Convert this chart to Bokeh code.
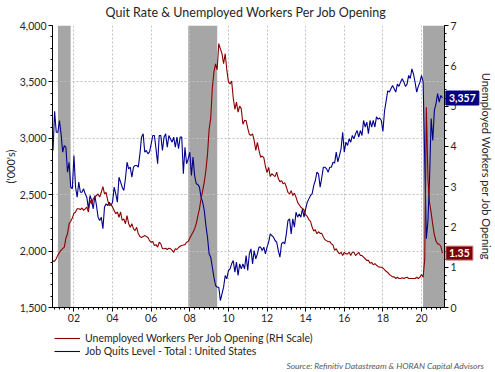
from bokeh.plotting import figure
from bokeh.layouts import column
from bokeh.models import (Range1d, LinearAxis, SingleIntervalTicker, FixedTicker,
                          NumeralTickFormatter, Legend, LegendItem)
from bokeh.core.properties import value
from bokeh.embed import file_html
from bokeh.resources import INLINE

FONT = "Lato"

title_text = "Quit Rate & Unemployed Workers Per Job Opening"
source_text = "Source: Refinitiv Datastream & HORAN Capital Advisors"
series_names = ["Unemployed Workers Per Job Opening (RH Scale)",
                "Job Quits Level - Total : United States"]
left_label = "('000's)"
right_label = "Unemployed Workers per Job Opening"

first_month = 2000 + 11 / 12  # Dec 2000, monthly data

quits = [
    2892,
    3240, 3054, 3054, 3158, 3040, 2877, 2936, 2921, 2700, 2788, 2567, 2552,
    2847, 2567, 2478, 2611, 2522, 2522, 2552, 2508, 2478, 2375, 2493, 2449,
    2375, 2493, 2404, 2301, 2271, 2301, 2198, 2390, 2419, 2404, 2434, 2404,
    2434, 2567, 2508, 2434, 2655, 2611, 2567, 2537, 2641, 2788, 2729, 2744,
    2655, 2744, 2759, 2759, 2744, 2862, 3010, 3040, 2877, 2892, 2862, 2880,
    2951, 3025, 3025, 2907, 2774, 3025, 3025, 2892, 3010, 3040, 2921, 3025,
    2995, 2966, 3010, 2921, 3010, 2907, 3010, 3010, 2685, 2921, 2774, 2818,
    2877, 2670, 2833, 2670, 2597, 2590, 2567, 2478, 2434, 2360, 2227, 2123,
    1976, 1946, 1857, 1769, 1695, 1680, 1680, 1562, 1621, 1680, 1784, 1754,
    1828, 1843, 1887, 1917, 1813, 1902, 1784, 1887, 1843, 1887, 1843, 1961,
    1828, 1976, 2020, 1887, 2005, 1931, 1976, 2035, 2035, 2005, 2035, 1976,
    2035, 2079, 2153, 2138, 2123, 2094, 2079, 2005, 1946, 2064, 2079, 2064,
    2153, 2271, 2286, 2153, 2286, 2212, 2345, 2301, 2330, 2301, 2375, 2301,
    2375, 2434, 2463, 2493, 2508, 2580, 2626, 2700, 2685, 2567, 2650, 2744,
    2744, 2729, 2700, 2744, 2744, 2788, 2780, 2877, 2790, 2847, 2907, 3054,
    2877, 2966, 2936, 2995, 2966, 3025, 2995, 3040, 3069, 3010, 3069, 3025,
    3158, 3100, 3143, 3040, 3158, 3100, 3158, 3100, 3190, 3170, 3180, 3158,
    3060, 3240, 3330, 3420, 3410, 3440, 3468, 3440, 3410, 3480, 3460, 3500,
    3527, 3500, 3460, 3480, 3557, 3530, 3616, 3570, 3497, 3409, 3460, 3497,
    3557, 3500, 2803, 2109, 2271, 2650, 3175, 2980, 3250, 3308, 3397, 3320,
    3380, 3357,
]

ratio = [
    1.15,
    1.15, 1.21, 1.30, 1.37, 1.42, 1.46, 1.50, 1.72, 1.83, 2.08, 2.14, 2.22,
    2.34, 2.37, 2.45, 2.45, 2.43, 2.47, 2.41, 2.45, 2.49, 2.37, 2.66, 2.57,
    2.70, 2.74, 2.78, 2.82, 2.74, 2.86, 3.00, 2.82, 2.86, 2.66, 2.53, 2.57,
    2.49, 2.41, 2.33, 2.37, 2.24, 2.37, 2.16, 2.20, 2.08, 2.28, 2.08, 1.99,
    2.08, 1.95, 1.91, 1.99, 1.83, 1.76, 1.74, 1.76, 1.79, 1.76, 1.74, 1.66,
    1.62, 1.64, 1.54, 1.56, 1.50, 1.62, 1.58, 1.46, 1.46, 1.47, 1.44, 1.47,
    1.46, 1.42, 1.37, 1.46, 1.44, 1.49, 1.52, 1.54, 1.55, 1.56, 1.62, 1.64,
    1.72, 1.80, 1.87, 1.95, 2.08, 2.27, 2.45, 2.70, 2.90, 3.12, 3.40, 3.80,
    4.42, 4.70, 5.45, 5.85, 6.05, 5.90, 6.55, 6.42, 6.30, 6.05, 6.30, 5.90,
    5.60, 5.55, 5.62, 5.20, 4.92, 5.10, 4.85, 5.00, 4.93, 4.55, 4.64, 4.64,
    4.45, 4.30, 4.27, 4.31, 4.15, 3.90, 4.10, 3.90, 3.73, 3.76, 3.72, 3.50,
    3.35, 3.48, 3.25, 3.32, 3.28, 3.25, 3.36, 3.20, 3.12, 3.15, 3.07, 3.10,
    2.99, 2.86, 2.82, 2.90, 2.78, 2.84, 2.74, 2.61, 2.55, 2.49, 2.46, 2.42,
    2.30, 2.26, 2.18, 2.14, 2.00, 1.90, 1.93, 1.83, 1.88, 1.84, 1.84, 1.75,
    1.68, 1.66, 1.63, 1.64, 1.58, 1.55, 1.42, 1.46, 1.38, 1.33, 1.37, 1.29,
    1.37, 1.33, 1.33, 1.37, 1.29, 1.37, 1.37, 1.29, 1.33, 1.37, 1.29, 1.29,
    1.25, 1.21, 1.17, 1.17, 1.10, 1.12, 1.06, 1.09, 1.05, 1.02, 1.00, 1.00,
    0.98, 0.94, 0.90, 0.87, 0.82, 0.79, 0.76, 0.76, 0.72, 0.75, 0.72, 0.72,
    0.74, 0.72, 0.74, 0.75, 0.72, 0.72, 0.72, 0.72, 0.72, 0.75, 0.72, 0.75,
    0.82, 0.75, 1.20, 4.97, 3.20, 2.60, 2.35, 2.05, 1.80, 1.65, 1.58, 1.57,
    1.52, 1.35,
]

rec_start = [2001.17, 2007.92, 2020.08]
rec_end = [2001.83, 2009.42, 2021.19]

year_ticks = [2002, 2004, 2006, 2008, 2010, 2012, 2014, 2016, 2018, 2020]
year_labels = ["02", "04", "06", "08", "10", "12", "14", "16", "18", "20"]
quarter_ticks = [2001 + q / 4 for q in range(0, 82)]

last_quits_text = "3,357"
last_ratio_text = "1.35"

months = [first_month + i / 12 for i in range(len(quits))]

X0, X1 = 2000.89, 2021.19
Y0, Y1 = 1500, 4000
BLUE = "#00008B"
RED = "#8B0000"
TXT = "#262626"

FRAME_W, FRAME_H = 395, 282
px_per_year = FRAME_W / (X1 - X0)
units_per_px = (Y1 - Y0) / FRAME_H

# ---------------- main chart ----------------
p = figure(width=495, height=330, x_range=Range1d(X0, X1), y_range=Range1d(Y0, Y1),
           output_backend="svg", toolbar_location=None, title=None,
           min_border_left=52, min_border_right=48, min_border_top=25, min_border_bottom=23)
p.extra_y_ranges = {"rh": Range1d(0, 7)}
p.outline_line_color = None

p.quad(left=rec_start, right=rec_end, bottom=Y0, top=Y1,
       fill_color="#A6A6A6", line_color=None, level="image")

for g in (p.xgrid, p.ygrid):
    g.grid_line_color = "#BFBFBF"
    g.grid_line_dash = "2 2"
    g.grid_line_width = 1

ly = p.yaxis[0]
ly.ticker = SingleIntervalTicker(interval=500, num_minor_ticks=5)
ly.formatter = NumeralTickFormatter(format="0,0")
ly.axis_label = left_label

ry = LinearAxis(y_range_name="rh", ticker=SingleIntervalTicker(interval=1, num_minor_ticks=5),
                axis_label=right_label)
p.add_layout(ry, "right")

xa = p.xaxis[0]
xa.ticker = FixedTicker(ticks=year_ticks, minor_ticks=quarter_ticks)
xa.major_label_overrides = {t: l for t, l in zip(year_ticks, year_labels)}

for ax in (ly, ry, xa):
    ax.axis_line_color = "black"
    ax.major_tick_line_color = "black"
    ax.minor_tick_line_color = "black"
    ax.major_tick_in = 0
    ax.major_tick_out = 4
    ax.minor_tick_in = 0
    ax.minor_tick_out = 2
    ax.major_label_text_font = FONT
    ax.major_label_text_font_size = "10.5px"
    ax.major_label_text_color = TXT
    ax.major_label_standoff = 2
    ax.axis_label_text_font = FONT
    ax.axis_label_text_font_size = "11px"
    ax.axis_label_text_font_style = "normal"
    ax.axis_label_text_color = TXT
ly.axis_label_standoff = 0
ry.axis_label_standoff = 20

blue = p.line(months, quits, line_color=BLUE, line_width=1.1)
red = p.line(months, ratio, y_range_name="rh", line_color=RED, line_width=1.1)

# title, centred above the frame
p.text(x=[X0 + 195 / px_per_year], y=[Y1 + 13 * units_per_px], text=[title_text],
       text_align="center", text_baseline="middle", text_color=TXT,
       text_font=value(FONT), text_font_size="12.5px", level="overlay")

# end-value boxes just right of the plot frame
qx = X1 + 18 / px_per_year
rx = X1 + 15 / px_per_year
p.rect(x=[qx], y=[quits[-1]], width=33, height=14, width_units="screen", height_units="screen",
       fill_color="#000080", line_color="#000080", level="overlay")
p.text(x=[qx], y=[quits[-1]], text=[last_quits_text], text_align="center", text_baseline="middle",
       text_color="white", text_font=value(FONT), text_font_style="bold", text_font_size="10.5px",
       level="overlay")
p.rect(x=[rx], y=[ratio[-1]], width=27, height=14, width_units="screen", height_units="screen",
       y_range_name="rh", fill_color="#7F0000", line_color="#C88080", level="overlay")
p.text(x=[rx], y=[ratio[-1]], text=[last_ratio_text], y_range_name="rh",
       text_align="center", text_baseline="middle",
       text_color="white", text_font=value(FONT), text_font_style="bold", text_font_size="10.5px",
       level="overlay")

# ---------------- legend + source strip ----------------
# this strip's frame is aligned with the main frame (x 52..447 on the page)
q = figure(width=495, height=42, x_range=Range1d(52, 447), y_range=Range1d(42, 0),
           output_backend="svg", toolbar_location=None,
           x_axis_location=None, y_axis_location=None,
           min_border_left=0, min_border_right=0, min_border_top=0, min_border_bottom=0)
q.grid.visible = False
q.outline_line_color = None
nan = float("nan")
kr = q.line([nan], [nan], line_color=RED, line_width=1.1)
kb = q.line([nan], [nan], line_color=BLUE, line_width=1.1)
legend = Legend(items=[LegendItem(label=series_names[0], renderers=[kr]),
                       LegendItem(label=series_names[1], renderers=[kb])],
                location=(2, 15), orientation="vertical",
                label_text_font=FONT, label_text_font_size="10.5px", label_text_color=TXT,
                glyph_width=26, glyph_height=12, label_height=12, spacing=1,
                padding=0, margin=0, label_standoff=5,
                border_line_color=None, background_fill_alpha=0)
q.add_layout(legend)
q.text(x=[487], y=[35], text=[source_text], text_align="right", text_baseline="middle",
       text_font=value(FONT), text_font_size="8.5px", text_font_style="italic",
       text_color="#595959", level="overlay")

layout = column(p, q, spacing=0)
open("out.html", "w").write(file_html(layout, INLINE))
